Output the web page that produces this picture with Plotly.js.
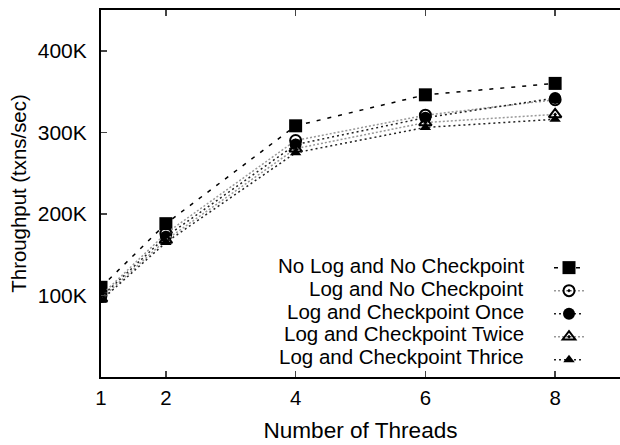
<!DOCTYPE html>
<html>
<head>
<meta charset="utf-8">
<script src="https://cdn.plot.ly/plotly-3.0.1.min.js"></script>
<style>html,body{margin:0;padding:0;background:#fff;}#chart{width:620px;height:445px;}</style>
</head>
<body>
<div id="chart"></div>
<script>
// ---- data ----
var threads = [1, 2, 4, 6, 8];
var seriesNames = [
  "No Log and No Checkpoint",
  "Log and No Checkpoint",
  "Log and Checkpoint Once",
  "Log and Checkpoint Twice",
  "Log and Checkpoint Thrice"
];
var noLogNoCkpt   = [110000, 188000, 308000, 346000, 360000];
var logNoCkpt     = [100000, 176000, 290000, 321000, 340000];
var logCkptOnce   = [98000, 172000, 285000, 318000, 342000];
var logCkptTwice  = [96000, 168000, 280000, 312000, 322000];
var logCkptThrice = [94000, 165000, 275000, 306000, 316000];
var yTickVals = [100000, 200000, 300000, 400000];
var yTickText = ["100K", "200K", "300K", "400K"];
var xTickVals = [1, 2, 4, 6, 8];

var seriesValues = [noLogNoCkpt, logNoCkpt, logCkptOnce, logCkptTwice, logCkptThrice];
var styles = [
  {sym: "square", size: 13, lc: "#000", dash: "4px,7px", w: 1.5},
  {sym: "circle-open-dot", size: 11, lc: "#999", dash: "2px,2px", w: 1.5},
  {sym: "circle", size: 12, lc: "#222", dash: "2px,3px", w: 1.5},
  {sym: "triangle-up-open-dot", size: 11, lc: "#999", dash: "2px,2px", w: 1.5},
  {sym: "triangle-up", size: 10, lc: "#222", dash: "2px,3px", w: 1.5}
];

var FONT = "Liberation Sans, Arial, Helvetica, sans-serif";

var traces = seriesValues.map(function (vals, i) {
  var s = styles[i];
  return {
    x: threads, y: vals, name: " ", type: "scatter", mode: "lines+markers",
    line: {color: s.lc, width: s.w, dash: s.dash},
    marker: {symbol: s.sym, size: s.size, color: "#000",
             line: {color: "#000", width: s.sym.indexOf("open") >= 0 ? 2 : 0}},
    showlegend: true
  };
});

var annYs = [0.305, 0.2425, 0.1798, 0.1172, 0.0545];
var annotations = seriesNames.map(function (n, i) {
  return {text: n, xref: "paper", yref: "paper", x: 0.819, y: annYs[i],
          xanchor: "right", yanchor: "middle", showarrow: false,
          font: {family: FONT, size: 20.5, color: "#000"}};
});

var layout = {
  width: 620, height: 445,
  margin: {l: 101, r: 0, t: 10, b: 68},
  paper_bgcolor: "#fff", plot_bgcolor: "#fff",
  font: {family: FONT, size: 20, color: "#000"},
  showlegend: true,
  legend: {x: 0.8632, y: 0.343, xanchor: "left", yanchor: "top",
           font: {family: FONT, size: 15.4}, bgcolor: "rgba(0,0,0,0)",
           traceorder: "normal"},
  xaxis: {
    range: [1, 9], tickvals: xTickVals, ticks: "inside", ticklen: 6, tickwidth: 1.5,
    showline: true, linecolor: "#000", linewidth: 2, mirror: "ticks",
    showgrid: false, zeroline: false, ticklabelstandoff: 2,
    tickfont: {family: FONT, size: 20.4, color: "#000"},
    title: {text: "Number of Threads", font: {family: FONT, size: 22.6, color: "#000"}, standoff: 14}
  },
  yaxis: {
    range: [0, 450000], tickvals: yTickVals, ticktext: yTickText, ticks: "inside",
    ticklen: 6, tickwidth: 1.5, showline: true, linecolor: "#000", linewidth: 2,
    showgrid: false, zeroline: false, ticklabelstandoff: 8,
    tickfont: {family: FONT, size: 21, color: "#000"},
    title: {text: "Throughput (txns/sec)", font: {family: FONT, size: 20.4, color: "#000"}, standoff: 6}
  },
  annotations: annotations
};

Plotly.newPlot("chart", traces, layout, {displayModeBar: false, staticPlot: true});
</script>
</body>
</html>
